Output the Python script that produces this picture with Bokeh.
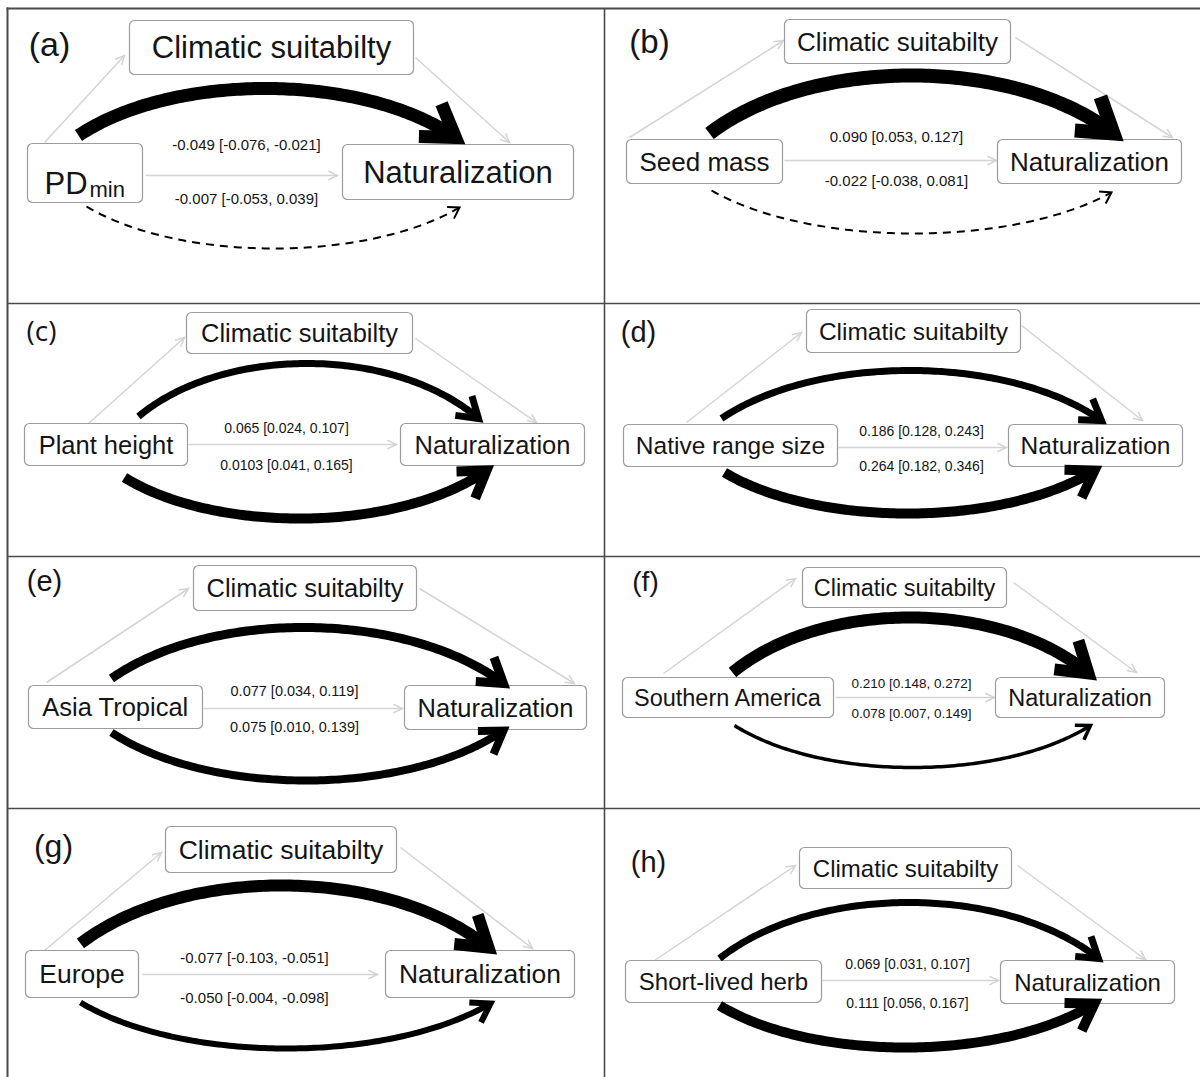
import numpy as np
from bokeh.plotting import figure
from bokeh.models import Range1d
from bokeh.core.properties import value
from bokeh.embed import file_html
from bokeh.resources import INLINE

# ---------------- data ----------------
panel_labels = ["(a)", "(b)", "(c)", "(d)", "(e)", "(f)", "(g)", "(h)"]
predictors = ["PD", "Seed mass", "Plant height", "Native range size",
              "Asia Tropical", "Southern America", "Europe", "Short-lived herb"]
predictor_sub = ["min", "", "", "", "", "", "", ""]
mediator = "Climatic suitabilty"
response = "Naturalization"

upper_est = ["-0.049", "0.090", "0.065", "0.186", "0.077", "0.210", "-0.077", "0.069"]
upper_lo = ["-0.076", "0.053", "0.024", "0.128", "0.034", "0.148", "-0.103", "0.031"]
upper_hi = ["-0.021", "0.127", "0.107", "0.243", "0.119", "0.272", "-0.051", "0.107"]
lower_est = ["-0.007", "-0.022", "0.0103", "0.264", "0.075", "0.078", "-0.050", "0.111"]
lower_lo = ["-0.053", "-0.038", "0.041", "0.182", "0.010", "0.007", "-0.004", "0.056"]
lower_hi = ["0.039", "0.081", "0.165", "0.346", "0.139", "0.149", "-0.098", "0.167"]
lower_significant = [False, False, True, True, True, True, True, True]

# ---------------- styles / layout ----------------
upper_lw = [13, 14, 7, 7, 9, 12, 12, 7]
lower_lw = [2, 2, 10, 10, 8, 3.5, 6, 10]

layout = [
    dict(lab=(49, 43, 34, "Liberation Sans"), med=(129, 413, 20, 74), pred=(27, 142, 143, 202),
         nat=(342, 573, 144, 199), nf=31, cx=246, cy=(144, 198), cf=15,
         st=((145, 175), (337, 175)), up=((44, 142), (124, 55)), dn=((415, 57), (509, 142)),
         au=((78, 135), (455, 137), 88), al=((86, 206), (459, 207), 248)),
    dict(lab=(649, 41, 33, "Liberation Sans"), med=(784, 1010, 19, 63), pred=(626, 782, 139, 183),
         nat=(997, 1181, 139, 183), nf=26, cx=896, cy=(136, 180), cf=15,
         st=((784, 160), (996, 160)), up=((629, 137), (783, 40)), dn=((1015, 37), (1172, 137)),
         au=((709, 133), (1113, 133), 75), al=((711, 190), (1111, 192), 233)),
    dict(lab=(41, 329, 28, "Open Sans"), med=(186, 412, 312, 353), pred=(24, 187, 423, 465),
         nat=(400, 584, 423, 465), nf=25.5, cx=286, cy=(427, 464), cf=14,
         st=((188, 444), (396, 444)), up=((88, 423), (184, 337)), dn=((415, 338), (536, 422)),
         au=((138, 416), (478, 418), 363), al=((124, 477), (486, 470), 518)),
    dict(lab=(638, 331, 29, "Liberation Sans"), med=(806, 1020, 309, 352), pred=(623, 837, 424, 466),
         nat=(1008, 1182, 424, 466), nf=24.5, cx=921, cy=(430, 465), cf=14,
         st=((837, 447), (1006, 447)), up=((686, 422), (801, 332)), dn=((1021, 325), (1142, 420)),
         au=((721, 418), (1101, 420), 370), al=((724, 472), (1094, 470), 513)),
    dict(lab=(44, 580, 29, "Liberation Sans"), med=(193, 416, 565, 610), pred=(28, 202, 685, 728),
         nat=(404, 586, 685, 729), nf=25.5, cx=294, cy=(690, 726), cf=14.5,
         st=((203, 708), (402, 708)), up=((46, 682), (188, 588)), dn=((419, 588), (574, 683)),
         au=((111, 678), (503, 683), 627), al=((111, 732), (503, 730), 780)),
    dict(lab=(645, 581, 28, "Liberation Sans"), med=(802, 1006, 567, 607), pred=(622, 833, 677, 717),
         nat=(995, 1164, 677, 717), nf=23.5, cx=911, cy=(683, 713), cf=13.5,
         st=((835, 697), (994, 697)), up=((663, 673), (795, 578)), dn=((1013, 582), (1136, 672)),
         au=((732, 672), (1088, 673), 617), al=((734, 725), (1090, 725), 767)),
    dict(lab=(53, 845, 32, "Liberation Sans"), med=(165, 396, 826, 872), pred=(25, 138, 950, 997),
         nat=(385, 574, 950, 997), nf=26.5, cx=254, cy=(957, 997), cf=15,
         st=((142, 974), (377, 974)), up=((44, 950), (161, 852)), dn=((400, 847), (532, 948)),
         au=((80, 943), (488, 947), 885), al=((80, 1002), (490, 1003), 1048)),
    dict(lab=(648, 861, 29, "Liberation Sans"), med=(799, 1011, 847, 888), pred=(625, 821, 960, 1002),
         nat=(1000, 1174, 960, 1003), nf=24, cx=907, cy=(963, 1002), cf=14,
         st=((822, 980), (998, 980)), up=((654, 960), (795, 865)), dn=((1017, 865), (1145, 959)),
         au=((719, 958), (1098, 958), 902), al=((719, 1005), (1094, 1003), 1047)),
]

FONT = value("Liberation Sans")
TXT = "#151515"
GRAY = "#d4d4d4"
BOX_LINE = "#9c9c9c"
FRAME = "#4a4a4a"

p = figure(width=1200, height=1077, x_range=Range1d(0, 1200), y_range=Range1d(1077, 0),
           output_backend="svg", toolbar_location=None,
           x_axis_location=None, y_axis_location=None, min_border=0)
p.grid.visible = False
p.outline_line_color = None
p.background_fill_color = "white"
p.border_fill_color = "white"

# frame lines
p.line([7, 7], [7, 1077], line_color=FRAME, line_width=2)
p.line([6, 1200], [8, 8], line_color=FRAME, line_width=2)
p.line([604, 604], [8, 1077], line_color=FRAME, line_width=1.6)
for yy in (303, 556, 808):
    p.line([7, 1200], [yy, yy], line_color=FRAME, line_width=1.6)


def cubic(S, E, peak, k=0.25, n=120):
    dx = E[0] - S[0]
    cy = (8 * peak - S[1] - E[1]) / 6.0
    c1 = (S[0] + k * dx, cy)
    c2 = (E[0] - k * dx, cy)
    t = np.linspace(0, 1, n)
    x = (1 - t) ** 3 * S[0] + 3 * (1 - t) ** 2 * t * c1[0] + 3 * (1 - t) * t ** 2 * c2[0] + t ** 3 * E[0]
    y = (1 - t) ** 3 * S[1] + 3 * (1 - t) ** 2 * t * c1[1] + 3 * (1 - t) * t ** 2 * c2[1] + t ** 3 * E[1]
    return x, y, (E[0] - c2[0], E[1] - c2[1])


def head(tip, d, length, ha_deg):
    ang = np.arctan2(-d[1], -d[0])
    ha = np.radians(ha_deg)
    xs = [tip[0] + length * np.cos(ang + ha), tip[0], tip[0] + length * np.cos(ang - ha)]
    ys = [tip[1] + length * np.sin(ang + ha), tip[1], tip[1] + length * np.sin(ang - ha)]
    return xs, ys


def gray_arrow(a, b):
    p.line([a[0], b[0]], [a[1], b[1]], line_color=GRAY, line_width=1.5)
    hx, hy = head(b, (b[0] - a[0], b[1] - a[1]), 10, 25)
    p.line(hx, hy, line_color=GRAY, line_width=1.5, line_join="miter")


def curved_arrow(spec, lw, dashed=False):
    S, E, peak = spec
    x, y, d = cubic(S, E, peak)
    kw = dict(line_color="black", line_width=lw, line_cap="butt", line_join="round")
    if dashed:
        kw["line_dash"] = "8 6"
    p.line(x, y, **kw)
    L = 8 + 2.2 * lw
    hx, hy = head(E, d, L, 33)
    p.line(hx, hy, line_color="black", line_width=lw, line_join="miter", line_cap="butt")


def box(b):
    l, r, t, bt = b
    p.quad(left=[l], right=[r], top=[t], bottom=[bt], fill_color="white",
           line_color=BOX_LINE, line_width=1.2, border_radius=5)


def label(x, y, s, size, font=FONT, align="center", baseline="middle"):
    p.text(x=[x], y=[y], text=[s], text_font=font, text_font_size=value(f"{size}px"),
           text_color=TXT, text_align=align, text_baseline=baseline)


for i, L in enumerate(layout):
    gray_arrow(*L["up"])
    gray_arrow(*L["dn"])
    gray_arrow(*L["st"])
    box(L["med"])
    box(L["pred"])
    box(L["nat"])
    curved_arrow(L["au"], upper_lw[i])
    curved_arrow(L["al"], lower_lw[i], dashed=not lower_significant[i])
    lx, ly, ls, lf = L["lab"]
    label(lx, ly, panel_labels[i], ls, font=value(lf))
    m = L["med"]
    label((m[0] + m[1]) / 2, (m[2] + m[3]) / 2, mediator, L["nf"])
    n = L["nat"]
    label((n[0] + n[1]) / 2, (n[2] + n[3]) / 2, response, L["nf"])
    pr = L["pred"]
    if predictor_sub[i]:
        label(44, 183, predictors[i], L["nf"], align="left", baseline="alphabetic")
        label(89, 189, predictor_sub[i], 22, align="left", baseline="alphabetic")
    else:
        label((pr[0] + pr[1]) / 2, (pr[2] + pr[3]) / 2, predictors[i], L["nf"])
    label(L["cx"], L["cy"][0], f"{upper_est[i]} [{upper_lo[i]}, {upper_hi[i]}]", L["cf"])
    label(L["cx"], L["cy"][1], f"{lower_est[i]} [{lower_lo[i]}, {lower_hi[i]}]", L["cf"])

open("out.html", "w").write(file_html(p, INLINE))
